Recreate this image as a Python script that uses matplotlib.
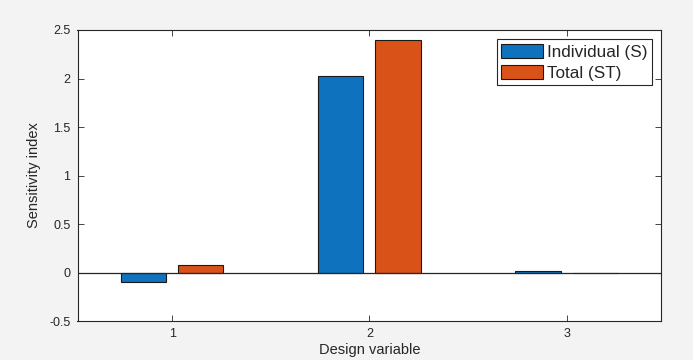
import numpy as np
import matplotlib
matplotlib.use('Agg')
import matplotlib.pyplot as plt

plt.rcParams['font.family'] = ['Liberation Sans', 'DejaVu Sans']

# Datos
variables = [1, 2, 3]
indiv_S = [-0.10, 2.03, 0.02]
total_ST = [0.08, 2.40, 0.0]
labels = ['Individual (S)', 'Total (ST)']

fig = plt.figure(figsize=(6.93, 3.60), dpi=100, facecolor='#f3f3f3')
ax = fig.add_axes([77.5/693, 1 - 321/360, (661.3-77.5)/693, (321-30)/360])
ax.set_facecolor('white')

x = np.array(variables)
off = 0.145
w = 0.23
ax.bar(x - off, indiv_S, w, color='#0F72BE', edgecolor='#1a1a1a', linewidth=0.8, label=labels[0], zorder=2)
ax.bar(x + off, total_ST, w, color='#D95319', edgecolor='#1a1a1a', linewidth=0.8, label=labels[1], zorder=2)
ax.axhline(0, color='#262626', linewidth=0.9, zorder=3)

ax.set_xlim(0.52, 3.48)
ax.set_ylim(-0.5, 2.5)
ax.set_xticks(variables)
ax.set_yticks([-0.5, 0, 0.5, 1, 1.5, 2, 2.5])
ax.set_yticklabels(['-0.5', '0', '0.5', '1', '1.5', '2', '2.5'])
ax.tick_params(direction='in', length=4, width=0.6, top=True, right=True,
               labelsize=9, colors='#262626', pad=5)
for s in ax.spines.values():
    s.set_color('#262626')
    s.set_linewidth(0.8)

ax.set_xlabel('Design variable', fontsize=10.5, color='#262626', labelpad=2)
ax.set_ylabel('Sensitivity index', fontsize=10.5, color='#262626', labelpad=6)

leg = ax.legend(loc='upper right', prop={'size': 12.3}, fancybox=False, framealpha=1,
                edgecolor='#262626', borderpad=0.25, handlelength=2.45, handleheight=0.9,
                handletextpad=0.25, labelspacing=0.3, borderaxespad=0.55)
leg.get_frame().set_linewidth(0.8)
for t in leg.get_texts():
    t.set_color('#262626')

fig.savefig('out.png', dpi=100, facecolor=fig.get_facecolor())
